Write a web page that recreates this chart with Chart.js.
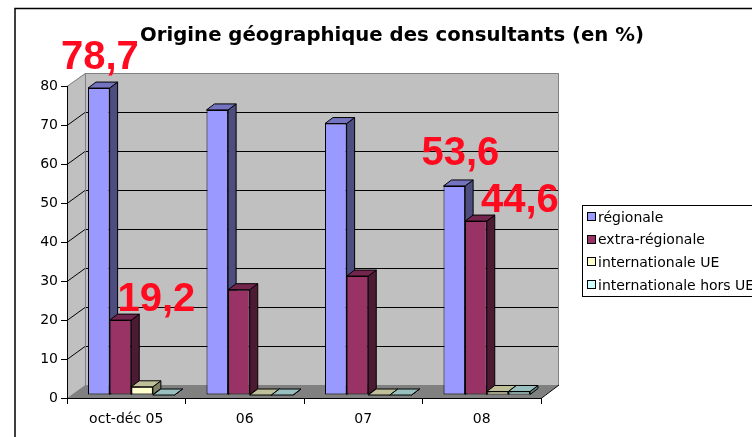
<!DOCTYPE html>
<html>
<head>
<meta charset="utf-8">
<script src="https://cdn.jsdelivr.net/npm/chart.js@4"></script>
<style>
  html, body { margin: 0; padding: 0; background: #fff; overflow: hidden; }
  canvas { display: block; }
</style>
</head>
<body>
<canvas id="chart" width="752" height="437"></canvas>
<script>
// Data
const categories = ['oct-déc 05', '06', '07', '08'];
const seriesNames = ['régionale', 'extra-régionale', 'internationale UE', 'internationale hors UE'];
const regionale = [78.7, 73.1, 69.6, 53.6];
const extraRegionale = [19.2, 27.0, 30.5, 44.6];
const internationaleUE = [2.1, 0, 0, 0.9];
const internationaleHorsUE = [0, 0, 0, 0.9];
const yMin = 0;
const yMax = 80;
const yStep = 10;
// bars that get a big red value: [series, category]
const calloutBars = [[0, 0], [1, 0], [0, 3], [1, 3]];

// Styles
const frontColors = ['#9999ff', '#993366', '#ffffcc', '#ccffff'];
const topColors = ['#7373bf', '#73264d', '#bfbf99', '#99bfbf'];
const sideColors = ['#4d4d80', '#4d1a33', '#808066', '#668080'];
const calloutOffsets = [[1, -19], [36, -9], [6, -21], [44, -9]];
const WALL_DX = 18, WALL_DY = 13;   // depth of the box
const BAR_DX = 8, BAR_DY = 6;       // depth of a column
const SHIFT_X = 5, SHIFT_Y = -3;    // columns sit a bit inside the box
const FONT = "'DejaVu Sans', Verdana, sans-serif";

const allSeries = [regionale, extraRegionale, internationaleUE, internationaleHorsUE];

function fmt(v) {
    return v.toFixed(1).replace('.', ',');
}

function poly(ctx, pts) {
    ctx.beginPath();
    ctx.moveTo(pts[0][0], pts[0][1]);
    for (let i = 1; i < pts.length; i++) ctx.lineTo(pts[i][0], pts[i][1]);
    ctx.closePath();
}

// Walls, floor and grid drawn behind everything
const box3d = {
    id: 'box3d',
    beforeDraw(chart) {
        const ctx = chart.ctx;
        const { left, right, top, bottom } = chart.chartArea;
        const yScale = chart.scales.y;
        ctx.save();
        ctx.fillStyle = '#c0c0c0';
        poly(ctx, [[left, top], [left + WALL_DX, top - WALL_DY], [left + WALL_DX, bottom - WALL_DY], [left, bottom]]);
        ctx.fill();
        ctx.fillRect(left + WALL_DX, top - WALL_DY, right - left, bottom - top);

        ctx.fillStyle = '#808080';
        poly(ctx, [[left, bottom], [left + WALL_DX, bottom - WALL_DY], [right + WALL_DX, bottom - WALL_DY], [right, bottom]]);
        ctx.fill();

        ctx.strokeStyle = '#000';
        ctx.lineWidth = 1;
        for (let v = yMin + yStep; v < yMax; v += yStep) {
            const py = Math.round(yScale.getPixelForValue(v)) + 0.5;
            ctx.beginPath();
            ctx.moveTo(left, py);
            ctx.lineTo(left + WALL_DX, py - WALL_DY);
            ctx.lineTo(right + WALL_DX, py - WALL_DY);
            ctx.stroke();
        }

        ctx.strokeStyle = '#808080';
        ctx.beginPath();
        ctx.moveTo(left, top + 0.5);
        ctx.lineTo(left + WALL_DX + 0.5, top - WALL_DY + 0.5);
        ctx.lineTo(right + WALL_DX - 0.5, top - WALL_DY + 0.5);
        ctx.lineTo(right + WALL_DX - 0.5, bottom - WALL_DY);
        ctx.moveTo(left + WALL_DX + 0.5, top - WALL_DY);
        ctx.lineTo(left + WALL_DX + 0.5, bottom - WALL_DY);
        ctx.stroke();

        ctx.strokeStyle = '#000';
        ctx.beginPath();
        ctx.moveTo(right, bottom + 0.5);
        ctx.lineTo(right + WALL_DX, bottom - WALL_DY);
        ctx.stroke();
        ctx.restore();
    },

    // columns in series order so later ones cover the sides of earlier ones
    beforeDatasetsDraw(chart) {
        const ctx = chart.ctx;
        ctx.save();
        ctx.translate(SHIFT_X, SHIFT_Y);
        ctx.lineWidth = 1;
        ctx.strokeStyle = '#000';
        ctx.lineJoin = 'round';
        chart.data.datasets.forEach((ds, i) => {
            const meta = chart.getDatasetMeta(i);
            meta.data.forEach(bar => {
                bar.draw(ctx);
                const { x, y, base, width } = bar.getProps(['x', 'y', 'base', 'width'], true);
                const l = x - width / 2, r = x + width / 2;
                const t = Math.min(y, base), b = Math.max(y, base);
                ctx.fillStyle = sideColors[i];
                poly(ctx, [[r, t], [r + BAR_DX, t - BAR_DY], [r + BAR_DX, b - BAR_DY], [r, b]]);
                ctx.fill();
                ctx.stroke();
                ctx.fillStyle = topColors[i];
                poly(ctx, [[l, t], [l + BAR_DX, t - BAR_DY], [r + BAR_DX, t - BAR_DY], [r, t]]);
                ctx.fill();
                ctx.stroke();
            });
        });
        ctx.restore();
        return false;
    },

    afterDraw(chart) {
        const ctx = chart.ctx;
        ctx.save();

        // outer frame
        ctx.strokeStyle = '#000';
        ctx.lineWidth = 1.5;
        ctx.beginPath();
        ctx.moveTo(15, chart.height);
        ctx.lineTo(15, 8.5);
        ctx.lineTo(chart.width, 8.5);
        ctx.stroke();

        // title
        ctx.fillStyle = '#000';
        ctx.font = 'bold 19.7px ' + FONT;
        ctx.textAlign = 'center';
        ctx.textBaseline = 'alphabetic';
        ctx.fillText('Origine géographique des consultants (en %)', 392, 41);

        // big red values
        ctx.font = "bold 40px 'Liberation Sans', Arial, sans-serif";
        ctx.fillStyle = '#ff0a1e';
        calloutBars.forEach(([s, c], k) => {
            const bar = chart.getDatasetMeta(s).data[c];
            const top = Math.min(bar.y, bar.base);
            ctx.fillText(fmt(allSeries[s][c]), bar.x + SHIFT_X + calloutOffsets[k][0], top + SHIFT_Y + calloutOffsets[k][1]);
        });

        // legend
        const lx = 582.5, ly = 205.5, lh = 91;
        ctx.fillStyle = '#fff';
        ctx.fillRect(lx, ly, chart.width, lh);
        ctx.lineWidth = 1;
        ctx.strokeStyle = '#000';
        ctx.strokeRect(lx, ly, chart.width, lh);
        ctx.font = '14px ' + FONT;
        ctx.textAlign = 'left';
        ctx.textBaseline = 'middle';
        seriesNames.forEach((name, i) => {
            const cy = 217 + i * 22.7;
            ctx.fillStyle = frontColors[i];
            ctx.fillRect(587.5, Math.round(cy) - 4.5, 8, 8);
            ctx.strokeRect(587.5, Math.round(cy) - 4.5, 8, 8);
            ctx.fillStyle = '#000';
            ctx.fillText(name, 598, cy + 1);
        });
        ctx.restore();
    }
};

const datasets = seriesNames.map((name, i) => ({
    label: name,
    data: allSeries[i],
    backgroundColor: frontColors[i],
    borderColor: '#000',
    borderWidth: 1,
    borderSkipped: false,
    categoryPercentage: 0.73,
    barPercentage: 1
}));

new Chart(document.getElementById('chart'), {
    type: 'bar',
    data: { labels: categories, datasets: datasets },
    plugins: [box3d],
    options: {
        responsive: false,
        devicePixelRatio: 1,
        animation: false,
        events: [],
        layout: { padding: { top: 86, right: 211, bottom: 0, left: 0 } },
        plugins: {
            legend: { display: false },
            title: { display: false },
            tooltip: { enabled: false }
        },
        scales: {
            x: {
                grid: { drawOnChartArea: false, tickLength: 6, color: '#000', offset: true },
                border: { color: '#000', width: 1 },
                ticks: { color: '#000', font: { family: FONT, size: 14 }, padding: 7, maxRotation: 0 },
                afterFit: s => { s.height = 39; }
            },
            y: {
                min: yMin,
                max: yMax,
                grid: { drawOnChartArea: false, tickLength: 6, color: '#000' },
                border: { color: '#000', width: 1 },
                ticks: { stepSize: yStep, color: '#000', font: { family: FONT, size: 14 }, padding: 3 },
                afterFit: s => { s.width = 67; }
            }
        }
    }
});
</script>
</body>
</html>
